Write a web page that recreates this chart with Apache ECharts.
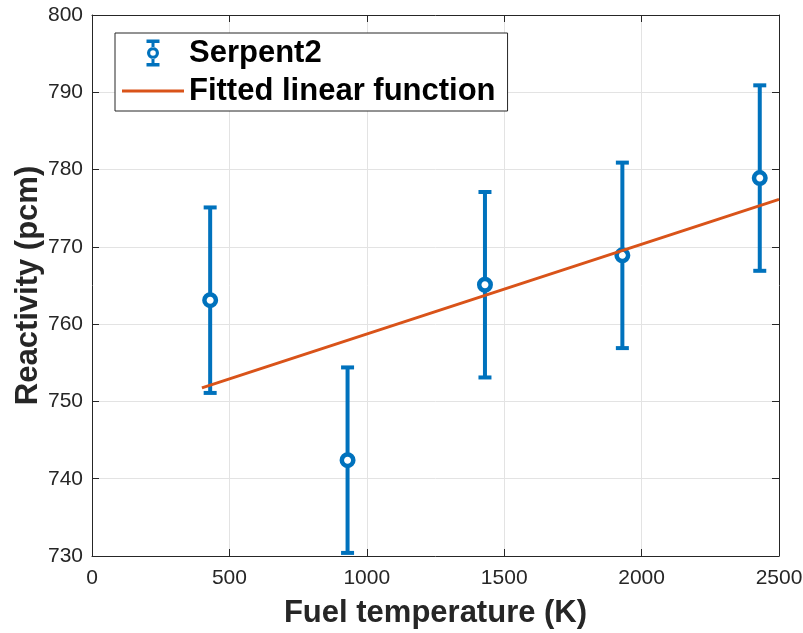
<!DOCTYPE html>
<html><head><meta charset="utf-8">
<script src="https://cdn.jsdelivr.net/npm/echarts@6/dist/echarts.min.js"></script>
<style>html,body{margin:0;padding:0;background:#fff}#c{width:803px;height:633px}</style>
</head><body><div id="c"></div>
<script>
// ---- data ----
const temperatures = [430, 930, 1430, 1930, 2430];
const reactivity = [763.1, 742.4, 765.1, 768.9, 778.9];
const reactivityErr = [12.0, 12.0, 12.0, 12.0, 12.0];
const fitX = [400, 2500];
const fitY = [751.75, 776.15];
const xTicks = [0, 500, 1000, 1500, 2000, 2500];
const yTicks = [730, 740, 750, 760, 770, 780, 790, 800];
const seriesNames = ['Serpent2', 'Fitted linear function'];
const axisTitles = ['Fuel temperature (K)', 'Reactivity (pcm)'];

// ---- styling ----
const BLUE = '#0072BD', ORANGE = '#D95319', AX = '#262626', GRID = '#e3e3e3';
const FONT = "'Liberation Sans', Arial, Helvetica, sans-serif";

const errData = temperatures.map((t, i) => [t, reactivity[i], reactivityErr[i]]);
const ptData = temperatures.map((t, i) => [t, reactivity[i]]);
const fitData = fitX.map((x, i) => [x, fitY[i]]);

const errIcon = 'path://M0 0H13V3.5H0Z M0 23.5H13V27H0Z M5 3.5H8V8H5Z M5 19H8V23.5H5Z ' +
  'M12.5 13.5A6 6 0 1 0 0.5 13.5A6 6 0 1 0 12.5 13.5Z M9.3 13.5A2.8 2.8 0 1 1 3.7 13.5A2.8 2.8 0 1 1 9.3 13.5Z';
const lineIcon = 'path://M0 0H62V3H0Z';

const xStep = xTicks[1] - xTicks[0], yStep = yTicks[1] - yTicks[0];
const xMin = xTicks[0], xMax = xTicks[xTicks.length - 1];
const yMin = yTicks[0], yMax = yTicks[yTicks.length - 1];
const plain = v => String(v);

function xAxisCfg(pos, main) {
  return {
    type: 'value', position: pos, min: xMin, max: xMax, interval: xStep,
    name: main ? axisTitles[0] : '', nameLocation: 'middle', nameGap: 42, nameMoveOverlap: false,
    nameTextStyle: { fontFamily: FONT, fontSize: 31, fontWeight: 'bold', color: AX },
    axisLine: { show: true, onZero: false, lineStyle: { color: AX, width: 1 } },
    axisTick: { show: true, inside: true, length: 7, lineStyle: { color: AX } },
    axisLabel: { show: main, margin: 12, fontFamily: FONT, fontSize: 21, color: AX, formatter: plain },
    splitLine: { show: main, lineStyle: { color: GRID, width: 1 } }
  };
}
function yAxisCfg(pos, main) {
  return {
    type: 'value', position: pos, min: yMin, max: yMax, interval: yStep,
    name: main ? axisTitles[1] : '', nameLocation: 'middle', nameGap: 48, nameMoveOverlap: false,
    nameTextStyle: { fontFamily: FONT, fontSize: 31, fontWeight: 'bold', color: AX },
    axisLine: { show: true, onZero: false, lineStyle: { color: AX, width: 1 } },
    axisTick: { show: true, inside: true, length: 7, lineStyle: { color: AX } },
    axisLabel: { show: main, margin: 9, fontFamily: FONT, fontSize: 21, color: AX, formatter: plain },
    splitLine: { show: main, lineStyle: { color: GRID, width: 1 } }
  };
}

const chart = echarts.init(document.getElementById('c'), null, { renderer: 'canvas' });
chart.setOption({
  animation: false,
  backgroundColor: '#fff',
  grid: { left: 92, right: 24, top: 15, bottom: 77, containLabel: false, outerBoundsMode: 'none' },
  xAxis: [xAxisCfg('bottom', true), xAxisCfg('top', false)],
  yAxis: [yAxisCfg('left', true), yAxisCfg('right', false)],
  legend: {
    orient: 'vertical', left: 115, top: 33,
    backgroundColor: '#fff', borderColor: AX, borderWidth: 1, borderRadius: 0,
    padding: [3, 12, 3, 7], itemGap: 4, itemWidth: 62, itemHeight: 27,
    symbolKeepAspect: true,
    textStyle: { fontFamily: FONT, fontSize: 31, fontWeight: 'bold', color: '#000', lineHeight: 34 },
    data: [
      { name: seriesNames[0], icon: errIcon, itemStyle: { color: BLUE, borderWidth: 0 } },
      { name: seriesNames[1], icon: lineIcon, itemStyle: { color: ORANGE, borderWidth: 0 } }
    ]
  },
  series: [
    {
      name: seriesNames[0], type: 'custom', z: 2, data: errData,
      itemStyle: { color: BLUE },
      encode: { x: 0, y: 1 },
      renderItem: function (params, api) {
        const x = api.value(0), y = api.value(1), e = api.value(2);
        const top = api.coord([x, y + e]);
        const bot = api.coord([x, y - e]);
        const hw = 6.5;
        const st = { stroke: BLUE, lineWidth: 4 };
        return {
          type: 'group', children: [
            { type: 'line', shape: { x1: top[0], y1: top[1], x2: bot[0], y2: bot[1] }, style: st },
            { type: 'line', shape: { x1: top[0] - hw, y1: top[1], x2: top[0] + hw, y2: top[1] }, style: st },
            { type: 'line', shape: { x1: bot[0] - hw, y1: bot[1], x2: bot[0] + hw, y2: bot[1] }, style: st }
          ]
        };
      }
    },
    {
      name: seriesNames[0], type: 'scatter', z: 3, data: ptData,
      symbol: 'circle', symbolSize: 11.5,
      itemStyle: { color: '#fff', borderColor: BLUE, borderWidth: 4.5, opacity: 1 }
    },
    {
      name: seriesNames[1], type: 'line', z: 4, data: fitData,
      showSymbol: false, symbol: 'none', color: ORANGE,
      lineStyle: { color: ORANGE, width: 3 }
    }
  ]
});
</script></body></html>
